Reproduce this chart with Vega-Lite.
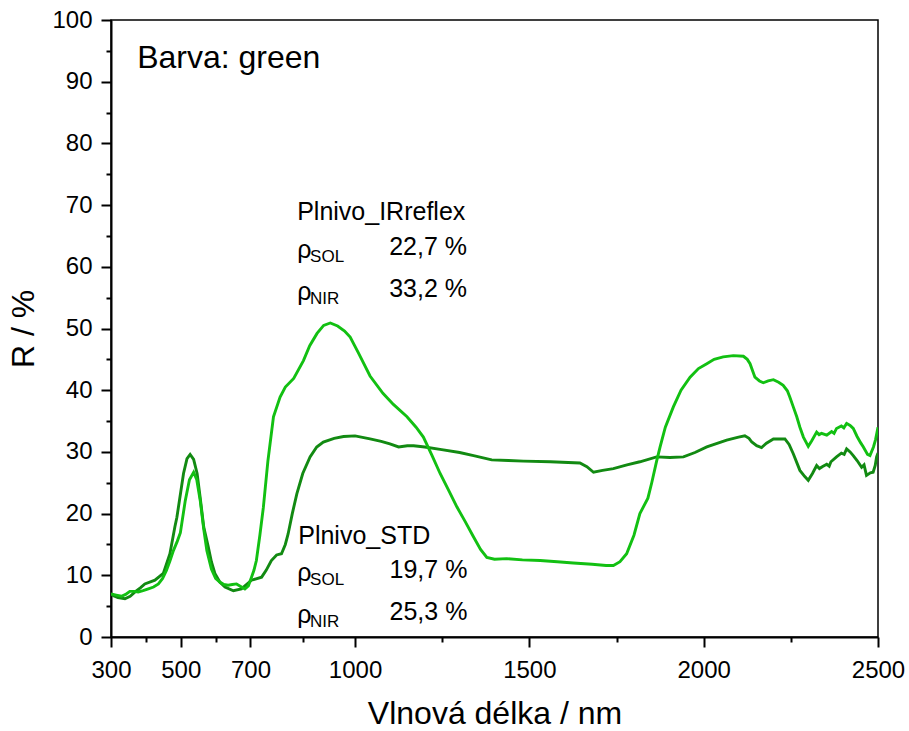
{
  "$schema": "https://vega.github.io/schema/vega-lite/v6.json",
  "width": 767,
  "height": 617,
  "autosize": "none",
  "padding": {"left": 111, "top": 20, "right": 31, "bottom": 94},
  "background": "white",
  "config": {
    "view": {"stroke": "black", "strokeWidth": 1.5},
    "axis": {
      "grid": false,
      "domainColor": "black",
      "domainWidth": 2,
      "tickColor": "black",
      "tickWidth": 2,
      "tickSize": 10,
      "labelColor": "black",
      "titleColor": "black",
      "labelFont": "Liberation Sans",
      "titleFont": "Liberation Sans",
      "titleFontWeight": "normal",
      "labelFontSize": 24,
      "titleFontSize": 32
    },
    "text": {"font": "Liberation Sans", "color": "black", "align": "left", "baseline": "alphabetic"}
  },
  "datasets": {
    "std": [
      {"x": 300, "y": 7.0}, {"x": 307, "y": 6.7}, {"x": 320, "y": 6.4}, {"x": 340, "y": 6.2}, {"x": 355, "y": 6.6},
      {"x": 369, "y": 7.3}, {"x": 385, "y": 8.0}, {"x": 397, "y": 8.6}, {"x": 426, "y": 9.2}, {"x": 450, "y": 10.3},
      {"x": 469, "y": 13.5}, {"x": 483, "y": 17.8}, {"x": 489, "y": 19.4}, {"x": 500, "y": 23.5}, {"x": 508, "y": 26.5},
      {"x": 518, "y": 28.9}, {"x": 527, "y": 29.6}, {"x": 537, "y": 28.8}, {"x": 547, "y": 26.5}, {"x": 556, "y": 22.5},
      {"x": 566, "y": 17.8}, {"x": 579, "y": 14.6}, {"x": 588, "y": 12.2}, {"x": 598, "y": 10.3}, {"x": 612, "y": 8.9},
      {"x": 627, "y": 8.1}, {"x": 651, "y": 7.5}, {"x": 674, "y": 7.8}, {"x": 703, "y": 9.2}, {"x": 732, "y": 9.7},
      {"x": 745, "y": 10.8}, {"x": 760, "y": 12.4}, {"x": 775, "y": 13.3}, {"x": 789, "y": 13.5}, {"x": 800, "y": 15.0},
      {"x": 808, "y": 16.7}, {"x": 820, "y": 20.0}, {"x": 833, "y": 23.2}, {"x": 850, "y": 26.5}, {"x": 871, "y": 29.2},
      {"x": 890, "y": 30.8}, {"x": 909, "y": 31.6}, {"x": 940, "y": 32.2}, {"x": 967, "y": 32.5}, {"x": 1000, "y": 32.6},
      {"x": 1043, "y": 32.1}, {"x": 1075, "y": 31.7}, {"x": 1100, "y": 31.3}, {"x": 1125, "y": 30.8}, {"x": 1150, "y": 31.0},
      {"x": 1168, "y": 31.0}, {"x": 1200, "y": 30.8}, {"x": 1244, "y": 30.4}, {"x": 1300, "y": 29.9}, {"x": 1340, "y": 29.4},
      {"x": 1392, "y": 28.7}, {"x": 1440, "y": 28.6}, {"x": 1483, "y": 28.5}, {"x": 1560, "y": 28.4}, {"x": 1645, "y": 28.2},
      {"x": 1665, "y": 27.6}, {"x": 1684, "y": 26.7}, {"x": 1710, "y": 27.0}, {"x": 1741, "y": 27.3}, {"x": 1780, "y": 27.9},
      {"x": 1817, "y": 28.4}, {"x": 1865, "y": 29.2}, {"x": 1903, "y": 29.1}, {"x": 1942, "y": 29.2}, {"x": 1975, "y": 29.9},
      {"x": 2009, "y": 30.8}, {"x": 2066, "y": 31.9}, {"x": 2100, "y": 32.4}, {"x": 2118, "y": 32.6}, {"x": 2130, "y": 32.2},
      {"x": 2138, "y": 31.6}, {"x": 2152, "y": 31.0}, {"x": 2166, "y": 30.7}, {"x": 2180, "y": 31.4}, {"x": 2200, "y": 32.1},
      {"x": 2233, "y": 32.1}, {"x": 2245, "y": 31.2}, {"x": 2257, "y": 29.7}, {"x": 2276, "y": 27.0}, {"x": 2290, "y": 26.0},
      {"x": 2300, "y": 25.4}, {"x": 2312, "y": 26.5}, {"x": 2324, "y": 27.8}, {"x": 2332, "y": 27.3}, {"x": 2340, "y": 27.6},
      {"x": 2353, "y": 28.0}, {"x": 2360, "y": 27.7}, {"x": 2365, "y": 28.4}, {"x": 2381, "y": 29.2}, {"x": 2395, "y": 29.8},
      {"x": 2403, "y": 29.6}, {"x": 2410, "y": 30.5}, {"x": 2420, "y": 30.0}, {"x": 2429, "y": 29.4}, {"x": 2440, "y": 28.6},
      {"x": 2453, "y": 27.5}, {"x": 2460, "y": 27.9}, {"x": 2467, "y": 26.2}, {"x": 2478, "y": 26.6}, {"x": 2486, "y": 26.7},
      {"x": 2492, "y": 27.8}, {"x": 2496, "y": 29.2}, {"x": 2500, "y": 29.8}
    ],
    "ir": [
      {"x": 300, "y": 7.0}, {"x": 315, "y": 6.8}, {"x": 330, "y": 6.6}, {"x": 342, "y": 6.9}, {"x": 354, "y": 7.4},
      {"x": 366, "y": 7.4}, {"x": 378, "y": 7.3}, {"x": 392, "y": 7.5}, {"x": 407, "y": 7.8}, {"x": 422, "y": 8.1},
      {"x": 436, "y": 8.6}, {"x": 448, "y": 9.5}, {"x": 459, "y": 10.8}, {"x": 469, "y": 12.3}, {"x": 479, "y": 14.0},
      {"x": 490, "y": 15.5}, {"x": 499, "y": 16.9}, {"x": 513, "y": 22.1}, {"x": 525, "y": 25.5}, {"x": 537, "y": 26.7},
      {"x": 546, "y": 25.5}, {"x": 556, "y": 22.1}, {"x": 566, "y": 17.5}, {"x": 575, "y": 14.0}, {"x": 588, "y": 11.0},
      {"x": 600, "y": 9.5}, {"x": 612, "y": 8.9}, {"x": 624, "y": 8.5}, {"x": 636, "y": 8.4}, {"x": 648, "y": 8.5},
      {"x": 660, "y": 8.6}, {"x": 672, "y": 8.2}, {"x": 684, "y": 7.8}, {"x": 694, "y": 8.3}, {"x": 703, "y": 9.7},
      {"x": 710, "y": 10.8}, {"x": 717, "y": 12.4}, {"x": 727, "y": 16.5}, {"x": 737, "y": 21.0}, {"x": 750, "y": 28.5},
      {"x": 766, "y": 35.7}, {"x": 785, "y": 38.9}, {"x": 800, "y": 40.5}, {"x": 824, "y": 41.9}, {"x": 852, "y": 44.8},
      {"x": 870, "y": 47.2}, {"x": 891, "y": 49.2}, {"x": 910, "y": 50.5}, {"x": 929, "y": 50.9}, {"x": 950, "y": 50.4},
      {"x": 970, "y": 49.6}, {"x": 986, "y": 48.6}, {"x": 1010, "y": 46.0}, {"x": 1043, "y": 42.3}, {"x": 1080, "y": 39.5},
      {"x": 1110, "y": 37.7}, {"x": 1149, "y": 35.7}, {"x": 1175, "y": 34.0}, {"x": 1196, "y": 32.4}, {"x": 1220, "y": 29.5},
      {"x": 1244, "y": 26.5}, {"x": 1270, "y": 23.6}, {"x": 1292, "y": 21.1}, {"x": 1316, "y": 18.7}, {"x": 1340, "y": 16.2},
      {"x": 1360, "y": 14.2}, {"x": 1378, "y": 12.9}, {"x": 1400, "y": 12.6}, {"x": 1435, "y": 12.7}, {"x": 1480, "y": 12.5},
      {"x": 1531, "y": 12.4}, {"x": 1580, "y": 12.2}, {"x": 1626, "y": 12.0}, {"x": 1680, "y": 11.8}, {"x": 1720, "y": 11.6},
      {"x": 1741, "y": 11.6}, {"x": 1760, "y": 12.2}, {"x": 1779, "y": 13.5}, {"x": 1800, "y": 16.5}, {"x": 1817, "y": 20.0},
      {"x": 1840, "y": 22.5}, {"x": 1851, "y": 25.0}, {"x": 1865, "y": 28.5}, {"x": 1875, "y": 30.8}, {"x": 1890, "y": 34.0},
      {"x": 1913, "y": 37.3}, {"x": 1935, "y": 40.0}, {"x": 1961, "y": 42.1}, {"x": 1985, "y": 43.5}, {"x": 2009, "y": 44.3},
      {"x": 2030, "y": 45.0}, {"x": 2056, "y": 45.4}, {"x": 2085, "y": 45.6}, {"x": 2114, "y": 45.5}, {"x": 2125, "y": 45.0},
      {"x": 2133, "y": 44.3}, {"x": 2140, "y": 43.2}, {"x": 2147, "y": 42.1}, {"x": 2160, "y": 41.5}, {"x": 2171, "y": 41.2},
      {"x": 2185, "y": 41.5}, {"x": 2200, "y": 41.7}, {"x": 2215, "y": 41.3}, {"x": 2228, "y": 40.8}, {"x": 2240, "y": 39.9},
      {"x": 2247, "y": 38.9}, {"x": 2257, "y": 37.3}, {"x": 2267, "y": 35.7}, {"x": 2276, "y": 34.0}, {"x": 2286, "y": 32.4},
      {"x": 2300, "y": 30.9}, {"x": 2310, "y": 31.8}, {"x": 2324, "y": 33.2}, {"x": 2331, "y": 32.8}, {"x": 2338, "y": 33.0},
      {"x": 2353, "y": 32.7}, {"x": 2367, "y": 33.3}, {"x": 2374, "y": 33.0}, {"x": 2381, "y": 33.8}, {"x": 2395, "y": 34.2},
      {"x": 2402, "y": 33.9}, {"x": 2410, "y": 34.6}, {"x": 2420, "y": 34.3}, {"x": 2429, "y": 33.8}, {"x": 2440, "y": 32.5},
      {"x": 2450, "y": 31.5}, {"x": 2458, "y": 30.8}, {"x": 2470, "y": 29.6}, {"x": 2477, "y": 29.4}, {"x": 2487, "y": 30.8},
      {"x": 2493, "y": 32.0}, {"x": 2500, "y": 34.0}
    ],
    "big": [{"x": 375, "y": 92.2, "t": "Barva: green"}],
    "mid": [
      {"x": 834, "y": 67.6, "t": "Plnivo_IRreflex"},
      {"x": 837, "y": 15.1, "t": "Plnivo_STD"},
      {"x": 1098, "y": 61.9, "t": "22,7 %"},
      {"x": 1098, "y": 55.1, "t": "33,2 %"},
      {"x": 1099, "y": 9.5, "t": "19,7 %"},
      {"x": 1099, "y": 2.7, "t": "25,3 %"},
      {"x": 834, "y": 61.5, "t": "ρ"},
      {"x": 834, "y": 54.7, "t": "ρ"},
      {"x": 834, "y": 9.1, "t": "ρ"},
      {"x": 834, "y": 2.3, "t": "ρ"}
    ],
    "sub": [
      {"x": 871, "y": 60.8, "t": "SOL"},
      {"x": 871, "y": 54.0, "t": "NIR"},
      {"x": 871, "y": 8.4, "t": "SOL"},
      {"x": 871, "y": 1.6, "t": "NIR"}
    ]
  },
  "layer": [
    {
      "data": {"name": "std"},
      "mark": {"type": "line", "color": "#128a12", "strokeWidth": 2.9, "clip": true},
      "encoding": {
        "x": {"field": "x", "type": "quantitative", "scale": {"domain": [300, 2500], "nice": false, "zero": false},
          "axis": {"orient": "bottom", "values": [300, 500, 700, 1000, 1500, 2000, 2500], "format": "d", "title": "Vlnová délka / nm", "labelPadding": 11, "titlePadding": 16, "labelFlush": false}},
        "y": {"field": "y", "type": "quantitative", "scale": {"domain": [0, 100], "nice": false},
          "axis": {"orient": "left", "values": [0, 10, 20, 30, 40, 50, 60, 70, 80, 90, 100], "format": "d", "title": "R / %", "labelPadding": 9, "titlePadding": 11, "labelFlush": false}}
      }
    },
    {
      "data": {"name": "ir"},
      "mark": {"type": "line", "color": "#12c012", "strokeWidth": 2.9, "clip": true},
      "encoding": {
        "x": {"field": "x", "type": "quantitative",
          "axis": {"orient": "bottom", "values": [400, 600, 850, 1250, 1750, 2250], "labels": false, "domain": false, "tickSize": 5, "title": null}},
        "y": {"field": "y", "type": "quantitative",
          "axis": {"orient": "left", "values": [5, 15, 25, 35, 45, 55, 65, 75, 85, 95], "labels": false, "domain": false, "tickSize": 5, "title": null}}
      }
    },
    {
      "data": {"name": "big"},
      "mark": {"type": "text", "fontSize": 32},
      "encoding": {
        "x": {"field": "x", "type": "quantitative", "axis": null},
        "y": {"field": "y", "type": "quantitative", "axis": null},
        "text": {"field": "t"}
      }
    },
    {
      "data": {"name": "mid"},
      "mark": {"type": "text", "fontSize": 25},
      "encoding": {
        "x": {"field": "x", "type": "quantitative", "axis": null},
        "y": {"field": "y", "type": "quantitative", "axis": null},
        "text": {"field": "t"}
      }
    },
    {
      "data": {"name": "sub"},
      "mark": {"type": "text", "fontSize": 17},
      "encoding": {
        "x": {"field": "x", "type": "quantitative", "axis": null},
        "y": {"field": "y", "type": "quantitative", "axis": null},
        "text": {"field": "t"}
      }
    }
  ],
  "resolve": {"axis": {"x": "independent", "y": "independent"}}
}
